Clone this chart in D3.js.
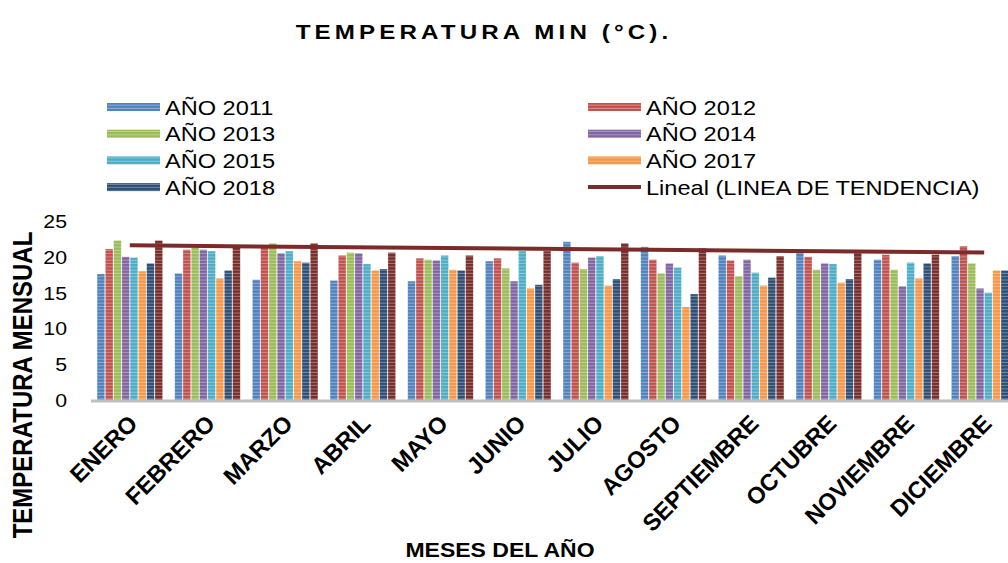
<!DOCTYPE html>
<html lang='en'>

<head>
   <meta charset='UTF-8'>
   <title>Temperatura min</title>
   <script src='https://d3js.org/d3.v7.min.js'></script>
   <style>
      body {
         margin: 0;
         background: #fff;
      }

      svg {
         display: block;
         font-family: 'Liberation Sans', Arial, sans-serif;
      }
   </style>
</head>

<body>
   <div id='svg-container'></div>
   <script>
      const months = ['ENERO', 'FEBRERO', 'MARZO', 'ABRIL', 'MAYO', 'JUNIO', 'JULIO', 'AGOSTO',
         'SEPTIEMBRE', 'OCTUBRE', 'NOVIEMBRE', 'DICIEMBRE'];
      const seriesNames = ['AÑO 2011', 'AÑO 2012', 'AÑO 2013', 'AÑO 2014', 'AÑO 2015', 'AÑO 2017', 'AÑO 2018', 'LINEA DE TENDENCIA'];
      const colours = ['#4f81bd', '#c0504d', '#9bbb59', '#8064a2', '#4bacc6', '#f79646', '#2c4d75', '#772c2a'];

      const y2011 = [17.6, 17.7, 16.8, 16.7, 16.6, 19.4, 22.1, 21.4, 20.2, 20.7, 19.6, 20.1];
      const y2012 = [21.1, 21.0, 21.3, 20.2, 19.8, 19.8, 19.2, 19.6, 19.5, 20.0, 20.3, 21.5];
      const y2013 = [22.3, 21.3, 21.9, 20.6, 19.6, 18.4, 18.3, 17.7, 17.3, 18.2, 18.2, 19.1];
      const y2014 = [20.0, 21.0, 20.5, 20.5, 19.5, 16.6, 19.9, 19.1, 19.6, 19.1, 15.9, 15.6];
      const y2015 = [19.9, 20.8, 20.8, 19.0, 20.2, 20.8, 20.1, 18.5, 17.8, 19.0, 19.2, 15.0];
      const y2017 = [18.0, 17.0, 19.4, 18.1, 18.2, 15.6, 16.0, 13.0, 16.0, 16.4, 17.0, 18.1];
      const y2018 = [19.1, 18.1, 19.2, 18.3, 18.1, 16.1, 16.9, 14.8, 17.1, 16.9, 19.1, 18.1];
      const yTend = [22.3, 21.4, 21.9, 20.6, 20.2, 20.8, 21.9, 21.2, 20.1, 20.6, 20.3, 20.5];
      const series = [y2011, y2012, y2013, y2014, y2015, y2017, y2018, yTend];

      // linear trend drawn over the bars (value at first and last month)
      const trendEnds = [21.6, 20.6];
      const yTicks = [0, 5, 10, 15, 20, 25];

      const W = 1008, H = 563;
      const sx = 1.15; // the original picture is a bit wider than tall

      const svg = d3.select('#svg-container').append('svg').attr('width', W).attr('height', H);

      const x = d3.scaleBand().domain(months).range([91, 1023]).paddingInner(0.14).paddingOuter(0.07);
      const xIn = d3.scaleBand().domain(d3.range(series.length)).range([0, x.bandwidth()]).padding(0.08);
      const y = d3.scaleLinear().domain([0, 25]).range([400, 221]);

      // striped fills
      const defs = svg.append('defs');
      colours.forEach((c, i) => {
         const p = defs.append('pattern').attr('id', 'stripe' + i)
            .attr('patternUnits', 'userSpaceOnUse').attr('width', 8).attr('height', 3.3);
         p.append('rect').attr('width', 8).attr('height', 3.3).attr('fill', c);
         p.append('rect').attr('y', 2.3).attr('width', 8).attr('height', 1).attr('fill', '#fff').attr('opacity', 0.35);
      });

      const hText = (sel, tx, ty, str) => sel.append('text')
         .attr('transform', `translate(${tx},${ty}) scale(${sx},1)`)
         .text(str);

      // title
      hText(svg, 484, 39, 'TEMPERATURA MIN (°C).')
         .attr('text-anchor', 'middle').attr('font-weight', 'bold')
         .attr('font-size', 21).attr('letter-spacing', 3.6);

      // legend
      const legend = svg.append('g');
      const legendItems = seriesNames.slice(0, 7).map((n, i) => ({ label: n, i: i, line: false }));
      legendItems.push({ label: 'Lineal (LINEA DE TENDENCIA)', i: 7, line: true });
      legendItems.forEach((d, k) => {
         const col = k % 2, row = Math.floor(k / 2);
         const lx = col === 0 ? 107 : 588;
         const ly = 107 + row * 26.7;
         if (d.line) {
            legend.append('line').attr('x1', lx).attr('x2', lx + 53).attr('y1', ly).attr('y2', ly)
               .attr('stroke', '#7b2c2a').attr('stroke-width', 4);
         } else {
            legend.append('rect').attr('x', lx).attr('y', ly - 4).attr('width', 53).attr('height', 8)
               .attr('fill', `url(#stripe${d.i})`);
         }
         hText(legend, lx + 58, ly + 7.5, d.label).attr('font-size', 20.5).attr('fill', '#000');
      });

      // bars
      const groups = svg.append('g').selectAll('g').data(months).join('g')
         .attr('transform', m => `translate(${x(m)},0)`);
      groups.selectAll('rect')
         .data((m, mi) => series.map((s, si) => ({ si: si, v: s[mi] })))
         .join('rect')
         .attr('x', d => xIn(d.si))
         .attr('width', xIn.bandwidth())
         .attr('y', d => y(d.v))
         .attr('height', d => y(0) - y(d.v))
         .attr('fill', d => `url(#stripe${d.si})`)
         .attr('stroke', '#fff').attr('stroke-opacity', 0.35).attr('stroke-width', 0.6);

      // x axis line
      svg.append('line').attr('x1', 91).attr('x2', W).attr('y1', y(0) + 1).attr('y2', y(0) + 1)
         .attr('stroke', '#bfbfbf').attr('stroke-width', 3);

      // trend line
      const cx = m => x(m) + x.bandwidth() / 2;
      svg.append('line')
         .attr('x1', cx(months[0])).attr('y1', y(trendEnds[0]))
         .attr('x2', cx(months[months.length - 1])).attr('y2', y(trendEnds[1]))
         .attr('stroke', '#7b2c2a').attr('stroke-width', 4);

      // y ticks
      yTicks.forEach(t => {
         hText(svg, 67, y(t) + 7, t).attr('text-anchor', 'end').attr('font-size', 18.5).attr('fill', '#000');
      });

      // month labels
      svg.append('g').selectAll('text').data(months).join('text')
         .attr('transform', m => `translate(${cx(m) + 9},${425}) rotate(-45)`)
         .attr('text-anchor', 'end')
         .attr('font-weight', 'bold')
         .attr('font-size', 23.5)
         .text(m => m);

      // axis titles
      hText(svg, 500, 557, 'MESES DEL AÑO').attr('text-anchor', 'middle').attr('font-weight', 'bold').attr('font-size', 20);
      svg.append('text')
         .attr('transform', `translate(32,385) rotate(-90) scale(1,${sx})`)
         .attr('text-anchor', 'middle').attr('font-weight', 'bold').attr('font-size', 24)
         .text('TEMPERATURA MENSUAL');
   </script>
</body>

</html>
